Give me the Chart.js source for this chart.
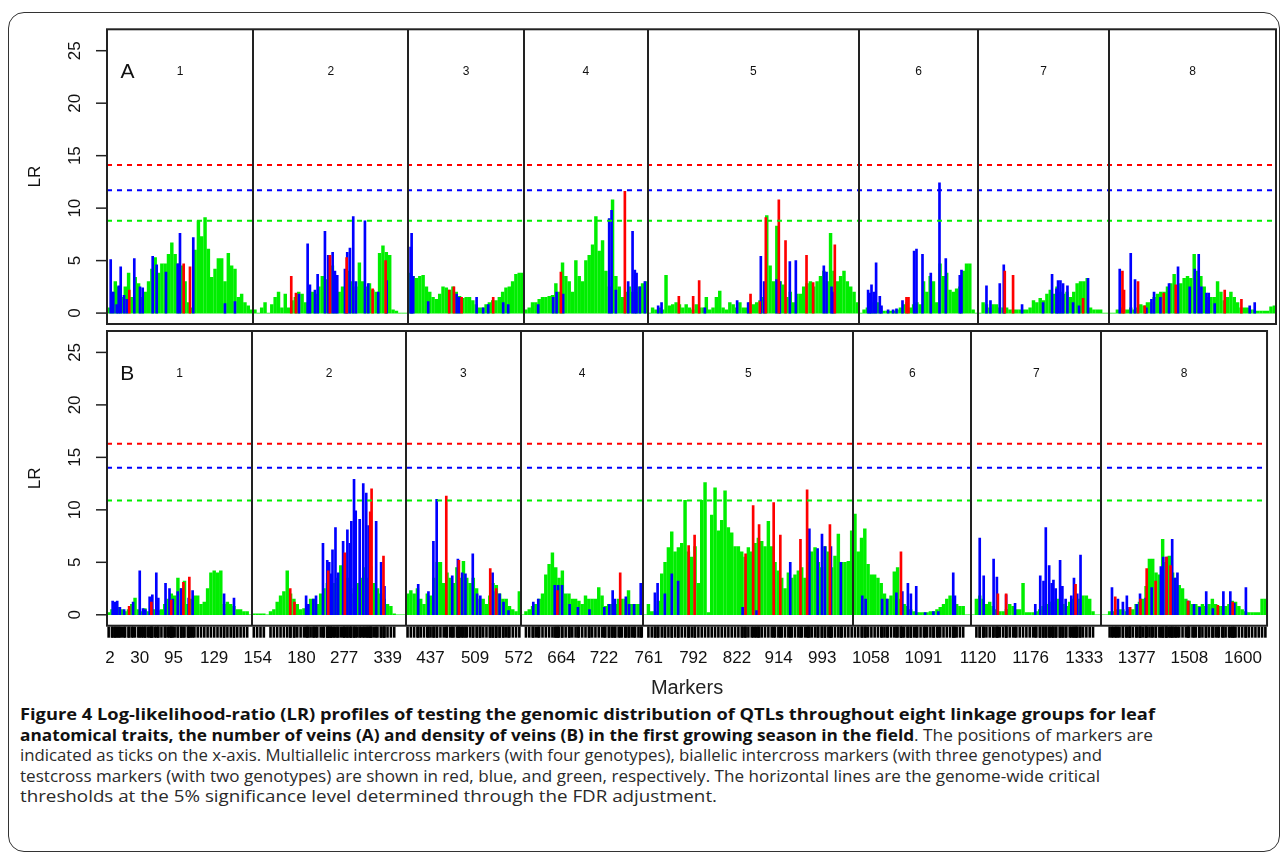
<!doctype html>
<html><head><meta charset="utf-8">
<title>Figure 4 - LR profiles</title>
<script src="https://cdn.jsdelivr.net/npm/chart.js@4"></script>
<style>
  html, body { margin: 0; padding: 0; background: #fff; }
  #fig { position: relative; width: 1284px; height: 855px; overflow: hidden; }
  #frame { position: absolute; left: 8px; top: 12px; width: 1270px; height: 838px; border: 1.5px solid #333; border-radius: 16px; }
  #panelA { position: absolute; left: 0; top: 0; }
  #panelB { position: absolute; left: 0; top: 330px; }
  #caption { position: absolute; left: 20px; top: 704px; width: 1250px; font-family: "Open Sans", sans-serif; font-size: 16px; color: #2a2a2a; }
  #caption div { height: 20.6px; line-height: 20.6px; white-space: nowrap; }
  #caption span { display: inline-block; transform-origin: 0 50%; }
  #caption b { color: #111; }
</style>
</head><body>
<div id="fig">
  <div id="frame"></div>
  <canvas id="panelA" width="1284" height="330"></canvas>
  <canvas id="panelB" width="1284" height="370"></canvas>
  <div id="caption">
    <div><span><b>Figure 4 Log-likelihood-ratio (LR) profiles of testing the genomic distribution of QTLs throughout eight linkage groups for leaf</b></span></div>
    <div><span><b>anatomical traits, the number of veins (A) and density of veins (B) in the first growing season in the field</b>. The positions of markers are</span></div>
    <div><span>indicated as ticks on the x-axis. Multiallelic intercross markers (with four genotypes), biallelic intercross markers (with three genotypes) and</span></div>
    <div><span>testcross markers (with two genotypes) are shown in red, blue, and green, respectively. The horizontal lines are the genome-wide critical</span></div>
    <div><span>thresholds at the 5% significance level determined through the FDR adjustment.</span></div>
  </div>
</div>
<script>
// linkage groups and their extent on the marker map
const groupNames = ['1', '2', '3', '4', '5', '6', '7', '8'];
const groupBounds = [0, 146.3, 301.3, 417.3, 540.7, 752.3, 871.3, 1002.3, 1169.3];

// marker names shown under the axis, and where they sit on the map
const xTickLabels = ['2', '30', '95', '129', '154', '180', '277', '339', '437', '509', '572', '664', '722',
  '761', '792', '822', '914', '993', '1058', '1091', '1120', '1176', '1333', '1377', '1508', '1600'];
const xTickPos = [3, 33, 67, 108, 152, 196, 239, 283, 326, 371, 415, 458, 501,
  546, 591, 635, 677, 721, 770, 823, 878, 931, 985, 1038, 1091, 1145];
const yTicks = [0, 5, 10, 15, 20, 25];

// FDR thresholds: red, blue, green
const thresholdsA = [14.1, 11.7, 8.8];
const thresholdsB = [16.3, 14.0, 10.9];

// testcross (green) LR, consecutive markers within each group
const greenA = [
  [0.5,2.0,3.0,2.5,1.5,2.5,3.8,1.5,3.4,2.8,1.5,2.0,3.0,4.2,5.3,3.8,4.7,4.7,5.6,6.7,5.6,4.7,4.5,3.0,1.0,0.5,6.0,8.8,7.3,9.1,6.1,3.4,4.2,5.2,5.2,3.0,5.7,4.5,4.2,1.5,1.8,1.0,0.7,0.3],
  [0.3,0,0.5,1.0,0,0.8,1.5,2.0,0.5,1.8,0.5,1.2,1.5,2.0,1.8,1.0,1.5,2.0,1.8,2.5,3.5,3.2,4.8,4.5,3.0,2.0,2.5,3.0,4.0,3.0,2.5,4.8,3.0,2.5,2.8,2.2,2.0,5.7,6.4,5.8,5.5,0.3,0.2,0,0,0],
  [3.8,3.5,3.3,3.5,3.6,2.5,2.0,1.5,1.3,1.8,2.5,2.4,2.2,2.5,2.0,1.6,1.4,1.5,1.5,1.2,0.8,0.5,0.5,0.8,1.0,1.2,1.2,1.5,2.0,2.4,2.5,3.0,3.7,3.8,3.8],
  [0.3,0.5,1.0,1.0,1.3,1.5,1.5,1.6,1.7,2.8,2.0,4.8,3.5,3.0,2.0,5.0,3.5,3.0,5.0,5.5,6.5,9.2,5.9,6.9,4.0,2.5,10.8,3.5,2.5,1.5,2.0,2.5,2.0,2.0,2.5,2.8,3.0],
  [0,0.5,0.3,0.5,0.3,3.6,0.7,0.8,1.0,0.8,0.5,0.8,0.5,0.3,0.8,0.5,0.5,1.5,0.3,0.5,1.5,2.1,0.5,0.3,1.0,0.8,0.5,1.0,0.5,0.5,1.0,0.8,1.0,1.2,1.5,9.3,4.5,3.0,8.3,3.0,2.7,1.5,2.0,1.0,1.8,1.8,2.5,2.8,3.0,2.5,3.0,3.5,4.0,3.0,7.6,4.0,3.0,3.5,4.0,3.0,2.5,2.0,1.0],
  [0,0.3,0.5,1.5,1.0,1.0,0.5,0.2,0.2,0.2,0.2,0.3,0.5,0.8,1.0,0.5,0.8,1.0,0.8,3.0,2.0,3.5,3.0,1.0,4.7,3.5,3.8,2.2,2.0,2.3,2.5,4.0,4.7,4.7,0.3,0],
  [0,1.0,0.8,0.5,0.8,0.8,0.5,0.5,0.5,0.3,0.3,0.3,0.3,0.3,0.3,0.5,1.2,1.0,1.4,1.2,1.8,2.2,1.8,2.5,2.0,1.8,2.0,1.5,2.0,2.8,3.0,3.0,3.3,0.5,0.3,0.3,0.3,0,0],
  [0,0,0.3,0.5,0.3,0.3,0.5,0.3,0.5,0.8,0.7,1.0,1.0,1.5,1.8,2.0,2.0,2.5,2.8,3.7,2.5,2.8,3.3,3.5,3.3,5.6,4.0,3.5,2.5,1.5,1.5,1.5,3.0,2.0,1.2,1.5,2.0,1.5,1.0,0.5,0.5,0.5,0.3,0.3,0.2,0.2,0.2,0.2,0.6,0.7]
];
const greenB = [
  [0.2,0.5,0.5,0.7,0.5,0.3,0.5,1.0,1.6,0.5,0.3,0.6,0.3,0.5,0.5,0.4,0.5,1.0,1.5,2.0,1.8,3.5,2.5,3.2,1.0,1.5,1.8,1.8,1.0,1.2,2.5,4.0,4.2,4.0,4.2,1.0,1.2,1.0,0.8,0.5,0.5,0.3,0.3,0],
  [0.1,0.1,0.1,0.1,0,0.3,0.5,1.2,1.8,2.2,4.2,2.0,1.5,1.0,0.5,0.6,0.8,1.5,1.5,1.0,2.0,2.5,3.0,3.5,3.0,3.5,4.7,4.0,3.5,2.5,2.0,3.0,3.5,4.5,3.5,4.6,3.0,2.5,2.0,1.5,1.0,0.8,0.1,0,0,0],
  [2.0,2.3,2.0,2.5,1.5,1.0,2.0,1.8,3.5,5.0,5.0,3.0,4.0,3.5,3.0,4.5,3.5,5.1,3.5,3.0,3.5,2.5,1.5,1.5,1.0,1.8,3.0,2.8,2.0,1.5,1.5,0.8,0.5,0.3,2.2],
  [0,0.3,0.5,0.8,1.0,1.5,2.0,3.8,4.8,5.9,4.5,3.5,4.2,2.0,2.0,1.5,1.5,1.3,1.0,1.8,1.5,1.5,1.5,2.6,1.8,0.8,1.0,1.0,1.0,1.5,1.5,1.5,2.3,1.0,1.0,1.0,1.0],
  [0,1.0,0.3,0.3,1.3,3.9,5.0,6.4,7.9,6.0,6.4,6.8,10.9,6.0,5.5,6.5,3.0,10.9,12.6,0.2,9.5,12.1,8.0,9.0,11.8,8.3,7.8,6.5,6.5,6.0,5.5,6.4,6.0,6.8,7.3,7.0,6.5,8.9,6.5,5.0,4.2,3.5,2.5,4.0,3.5,3.8,4.2,4.5,3.5,5.0,6.0,6.4,5.0,4.5,6.5,6.0,4.5,5.6,7.7,5.0,5.0,5.1,8.0],
  [9.6,6.0,7.3,8.2,4.8,3.8,3.8,3.5,3.0,2.0,1.5,1.8,4.1,4.5,1.5,1.0,0.8,0.5,0.3,0.2,0.2,0.2,0.2,0.3,0.3,0.5,0.7,1.0,1.5,1.8,1.5,1.0,0.8,0.8,0,0],
  [0,1.5,1.8,1.5,1.0,1.2,0.8,0.5,0.3,0.3,0.5,1.0,0.8,0.5,0.5,3.0,0.2,0.2,0.2,0.3,0.5,0.8,1.0,1.2,1.2,1.5,1.5,1.0,0.8,1.2,1.5,1.8,1.5,1.8,1.8,1.5,0.3,0,0],
  [0,0,0.3,0.3,0.5,0.5,0.5,0.3,0.5,0.5,1.0,1.2,1.5,2.7,5.3,5.3,4.0,3.8,7.2,5.0,5.6,4.0,3.5,2.8,2.5,1.5,1.3,1.0,1.0,0.8,1.0,0.8,1.0,1.5,1.0,0.8,0.8,0.8,1.0,1.3,1.2,0.8,0.5,0.3,0.2,0.2,0.2,0.2,1.5,1.5]
];

// biallelic intercross (blue) and multiallelic intercross (red): [map position, LR]
const blueA = [
  [3.7,5.1],[6.3,2.0],[9.7,0.8],[11.7,2.6],[13.7,4.4],[17,1.7],[19.7,1.3],[27.3,5.2],[33,2.5],[35.7,2.4],[45.7,5.4],[49.7,4.6],[59,3.9],[70.7,4.7],[73,7.6],[86.3,7.2],[118,0.9],[128,1.1],
  [192,1.8],[200.7,6.6],[203,2.7],[208,2.2],[210.7,3.7],[218,7.8],[221.3,5.5],[225.7,5.8],[228,4.0],[230.3,3.6],[238,4.2],[240.3,5.8],[243,6.2],[246.3,9.2],[249,3.0],[258,8.8],[261.3,2.8],[271.3,2.0],[279.7,3.1],
  [303.7,6.3],[304.7,7.6],[306.3,3.5],[321.3,1.1],[349.7,1.8],[352.3,1.5],[369.7,1.5],[376.3,0.5],[381.3,0.8],[396.3,1.0],[401.3,0.8],
  [431.3,0.8],[446.3,1.5],[449.7,2.0],[456.3,1.8],[502.3,9.0],[504.7,9.8],[509,2.2],[521.3,3.0],[525.7,7.8],[528,4.1],[529.7,3.8],[533,2.5],[538,3.0],
  [551.3,0.7],[554.7,1.0],[598,0.5],[630.3,1.2],[641.3,1.0],[654,5.4],[657.3,3.0],[669.7,3.2],[673,3.0],[683,4.9],[689,5.0],[717,4.5],[719.7,3.9],[724.7,2.5],[726.3,2.0],
  [761.3,2.2],[763,1.9],[764.7,2.7],[767,2.0],[769.3,4.8],[773,1.6],[774.7,0.7],[781.3,0.3],[786.3,0.3],[789.7,0.4],[795.7,1.2],[807.3,5.9],[809.7,6.1],[815.7,5.6],[824,3.8],[832.7,12.4],[839,5.2],[853,3.6],[854.7,4.1],
  [879.7,2.6],[883.7,1.2],[893,2.8],[897,4.6],[915.3,0.8],[936.3,1.0],[945.3,3.7],[949.7,2.3],[951.3,3.1],[953.7,3.1],[956.3,2.8],[960.7,2.6],[966.3,1.0],[972.3,0.7],[981.3,3.3],
  [1013,4.2],[1024,5.7],[1028.3,3.2],[1039.7,0.5],[1044.7,1.3],[1047.3,2.0],[1053.7,1.5],[1062.3,2.8],[1071.3,4.4],[1083,2.5],[1088,4.2],[1092,5.6],[1094.7,2.5],[1099.7,1.9],[1102,1.9],[1108,0.9],[1143,0.7],[1148,1.0]
];
const redA = [
  [22.3,2.2],[76.7,4.7],[83,4.4],[184.3,3.5],[189,1.9],[223,5.5],[239.7,5.3],[265.7,2.3],[278.7,5.0],
  [342.3,2.2],[347,2.5],[354.7,1.5],[386.3,1.5],[454,3.9],[518,11.6],
  [572,1.6],[586.3,1.6],[592.3,3.1],[643.7,1.8],[653,1.1],[659,9.1],[672,10.8],[678.7,6.9],[699.7,5.5],[706.3,2.9],[728,6.5],
  [799.7,1.5],[801.7,1.5],[898,4.0],[906.3,3.6],[976.3,1.4],
  [1015.7,4.0],[1017.3,2.2],[1031.3,3.0],[1038,0.7],[1057,1.9],[1069,2.7],[1118,2.2],[1134.7,1.3]
];
const blueB = [
  [5.7,1.3],[8,1.2],[10.3,1.3],[13,0.7],[17.3,0.5],[26.3,1.2],[33,4.2],[36.3,0.6],[38.7,0.5],[43,1.7],[45.7,1.9],[49.7,4.0],[51.7,1.6],[59,3.0],[63,2.5],[66.3,1.5],[71.3,2.2],[74.7,2.5],[82.3,1.6],[86.3,2.3],[118,2.0],[128,1.6],
  [200.7,1.8],[203,1.0],[208,1.5],[210.7,1.8],[217.7,6.8],[222,5.2],[224,5.0],[225.7,3.9],[227.3,6.2],[230.3,8.3],[233,4.0],[238,7.0],[242.3,8.1],[244.7,6.8],[246.3,8.9],[249,12.9],[250.7,9.9],[254.7,9.1],[258.3,12.5],[261.3,11.6],[263.7,8.5],[271.3,8.9],[276.3,5.0],[279.7,2.7],
  [313.7,2.9],[324,2.2],[329,7.0],[332.3,11.0],[348,3.7],[353.7,5.3],[358,4.0],[361.3,3.9],[368.7,5.8],[373,2.0],[376.3,1.8],[388.7,4.0],[392,2.2],[395.7,2.0],[399.7,1.2],[404.7,0.4],
  [429.7,1.2],[434.7,1.5],[451.3,2.8],[454.7,2.8],[458.7,2.8],[466.3,1.0],[474.7,0.7],[486.3,0.5],[501.3,0.7],[506.3,1.0],[509.7,2.3],[512,1.5],[523,1.7],[526.3,1.0],[531.3,1.0],[538,3.0],
  [552.3,2.1],[555,3.0],[562.3,2.0],[569.3,3.9],[575.7,3.2],[640.7,0.7],[654.7,0.4],[688.7,5.0],[708,8.2],[716.3,6.3],[720.7,7.7],[723.7,6.5],[729.7,6.5],[739.7,5.0],
  [761.3,1.8],[764.7,1.5],[781.3,1.5],[786.3,1.5],[795.7,2.1],[801.7,2.2],[807.3,3.0],[810.3,2.0],[815.7,2.7],[824.7,0.2],[833,0.3],[838,0.3],[853,4.0],[854.7,1.8],
  [879.7,7.3],[883.7,3.7],[893.7,5.3],[897,3.6],[906.3,1.9],[915.3,1.1],[935.7,1.0],[940.7,3.7],[944,3.2],[946.3,8.3],[949.7,4.7],[952.3,3.0],[954,3.3],[956.3,2.5],[960.7,5.2],[963,2.7],[966.3,1.5],[972,1.8],[974.7,3.5],[978,2.0],[981.3,5.7],
  [1013,2.6],[1019,1.5],[1024,1.2],[1028,1.8],[1030.7,0.7],[1038,1.0],[1041.3,2.0],[1047,1.6],[1053,2.6],[1062.3,4.6],[1064.7,5.5],[1068,5.5],[1073.7,7.2],[1076.3,3.5],[1079,4.0],[1089.7,1.3],[1095.7,1.0],[1101.3,0.7],[1108,2.2],[1114.7,0.6],[1125.3,2.2],[1132.3,2.2],[1136.3,1.1],[1148,2.6]
];
const redB = [
  [22.3,0.8],[44.7,1.2],[64.7,1.4],[77,3.1],[83,3.6],[184.7,2.5],[189,1.2],[223,4.2],[239.7,5.9],[265.3,9.8],[266.7,12.0],[278.7,5.6],
  [342,11.3],[354.7,5.2],[386.3,4.4],[392.3,2.5],[454,2.3],[517.3,4.0],
  [586.3,6.6],[592.3,7.6],[643.7,5.8],[651.3,10.4],[657.3,8.6],[672,10.7],[678.7,7.6],[699,7.2],[705.7,11.9],[728.7,8.6],
  [800.3,6.0],[898,2.0],[906.3,2.0],[976.3,2.9],
  [1016.3,1.7],[1031.3,0.7],[1041.7,1.5],[1048,4.4],[1057,3.2],[1068,5.5],[1072,4.7],[1089.7,1.3],[1119.7,0.9],[1134.7,1.2]
];

const RED = '#ff0000', BLUE = '#0000ff', GREEN = '#00ee00';
const FONT = '"Liberation Sans", Arial, sans-serif';
const xMax = groupBounds[groupBounds.length - 1];
Chart.defaults.font.family = FONT;

function greenPoints(groups) {
  const pts = [];
  groups.forEach((vals, g) => {
    const s = groupBounds[g], step = (groupBounds[g + 1] - s) / vals.length;
    vals.forEach((v, k) => pts.push({ x: s + (k + 0.5) * step, y: v }));
  });
  return pts;
}
const toPts = arr => arr.map(([x, y]) => ({ x, y }));

// frame, group dividers, labels, rotated y ticks, marker rug
const panelDecor = {
  id: 'panelDecor',
  afterDraw(chart, args, o) {
    const { ctx, chartArea: a, scales: { x, y } } = chart;
    ctx.save();
    ctx.strokeStyle = '#222';
    ctx.lineWidth = 2;
    groupBounds.slice(1, -1).forEach(b => {
      const px = Math.round(x.getPixelForValue(b));
      ctx.beginPath(); ctx.moveTo(px, a.top); ctx.lineTo(px, a.bottom); ctx.stroke();
    });
    ctx.strokeRect(a.left, a.top, a.right - a.left, a.bottom - a.top);

    ctx.fillStyle = '#111';
    ctx.textAlign = 'center';
    ctx.textBaseline = 'middle';
    ctx.font = '12px ' + FONT;
    const ly = y.getPixelForValue(23);
    groupNames.forEach((g, i) => ctx.fillText(g, x.getPixelForValue((groupBounds[i] + groupBounds[i + 1]) / 2), ly));
    ctx.font = '21px ' + FONT;
    ctx.fillText(o.letter, x.getPixelForValue(20.5), ly + 1);

    ctx.lineWidth = 1.5;
    ctx.font = '17px ' + FONT;
    yTicks.forEach(t => {
      const py = y.getPixelForValue(t);
      ctx.beginPath(); ctx.moveTo(a.left - 11, py); ctx.lineTo(a.left, py); ctx.stroke();
      ctx.save(); ctx.translate(a.left - 32, py); ctx.rotate(-Math.PI / 2);
      ctx.fillText(String(t), 0, 0); ctx.restore();
    });
    ctx.save(); ctx.translate(a.left - 72, (a.top + a.bottom) / 2); ctx.rotate(-Math.PI / 2);
    ctx.fillText('LR', 0, 0); ctx.restore();

    if (o.rug) {
      ctx.strokeStyle = '#000';
      ctx.lineWidth = 2.6;
      o.rug.forEach(p => {
        const px = x.getPixelForValue(p);
        ctx.beginPath(); ctx.moveTo(px, a.bottom + 1); ctx.lineTo(px, a.bottom + 12); ctx.stroke();
      });
    }
    ctx.restore();
  }
};

function makePanel(id, green, blue, red, thr, letter, withAxis, padding) {
  const gPts = greenPoints(green);
  const bPts = toPts(blue), rPts = toPts(red);
  const rug = withAxis ? gPts.filter(p => p.y > 0).concat(bPts, rPts).map(p => p.x) : null;
  const hline = (v, c) => ({
    type: 'line', data: [{ x: 0, y: v }, { x: xMax, y: v }], borderColor: c, borderWidth: 2,
    borderDash: [5, 5], pointRadius: 0, order: 0
  });
  const bars = (data, c, w, order) => ({
    type: 'bar', data, backgroundColor: c, barThickness: w, grouped: false, borderWidth: 0, order
  });
  return new Chart(document.getElementById(id), {
    type: 'bar',
    data: {
      datasets: [
        hline(thr[0], RED), hline(thr[1], BLUE), hline(thr[2], GREEN),
        bars(rPts, RED, 2, 1), bars(bPts, BLUE, 2, 2), bars(gPts, GREEN, 2.8, 3)
      ]
    },
    options: {
      responsive: false, animation: false, devicePixelRatio: 1,
      layout: { padding },
      plugins: { legend: { display: false }, tooltip: { enabled: false }, panelDecor: { letter, rug } },
      scales: {
        x: {
          type: 'linear', min: 0, max: xMax, offset: false, display: withAxis,
          grid: { display: false, drawTicks: false }, border: { display: false },
          afterBuildTicks: s => { s.ticks = xTickPos.map(v => ({ value: v })); },
          afterFit: s => { s.height = withAxis ? 74.3 : 0; },
          ticks: {
            autoSkip: false, maxRotation: 0, minRotation: 0, padding: 22, color: '#111',
            font: { size: 17 }, callback: (v, i) => xTickLabels[i]
          },
          title: { display: true, text: 'Markers', color: '#222', font: { size: 20 }, padding: { top: 0, bottom: 0 } }
        },
        y: {
          min: -1.04, max: 27.04,
          ticks: { display: false }, grid: { display: false, drawTicks: false }, border: { display: false },
          afterFit: s => { s.width = 107; }
        }
      }
    },
    plugins: [panelDecor]
  });
}

makePanel('panelA', greenA, blueA, redA, thresholdsA, 'A', false, { top: 29.3, bottom: 6, left: 0, right: 8 });
makePanel('panelB', greenB, blueB, redB, thresholdsB, 'B', true, { top: 1, bottom: 0, left: 0, right: 8 });

// squeeze each caption line to the width it has in the figure
const captionWidths = [1135, 1133, 1082, 1080, 697];
function fitCaption() {
  document.querySelectorAll('#caption span').forEach((s, i) => {
    s.style.transform = 'none';
    const w = s.getBoundingClientRect().width;
    s.style.transform = 'scaleX(' + (captionWidths[i] / w) + ')';
  });
}
fitCaption();
if (document.fonts) document.fonts.ready.then(fitCaption);
</script>
</body></html>
